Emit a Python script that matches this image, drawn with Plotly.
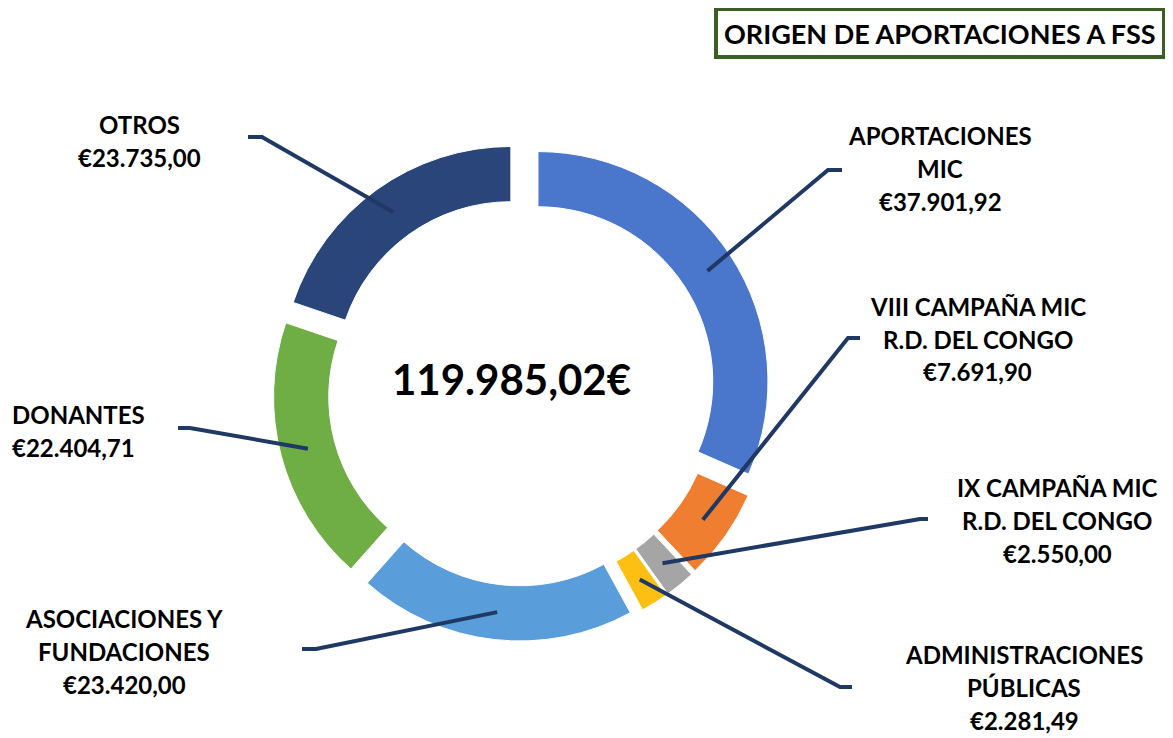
import math
import plotly.graph_objects as go

# ---------------- data ----------------
categories = ["APORTACIONES MIC", "VIII CAMPAÑA MIC R.D. DEL CONGO",
              "IX CAMPAÑA MIC R.D. DEL CONGO", "ADMINISTRACIONES PÚBLICAS",
              "ASOCIACIONES Y FUNDACIONES", "DONANTES", "OTROS"]
label_lines = [["APORTACIONES", "MIC"],
               ["VIII CAMPAÑA MIC", "R.D. DEL CONGO"],
               ["IX CAMPAÑA MIC", "R.D. DEL CONGO"],
               ["ADMINISTRACIONES", "PÚBLICAS"],
               ["ASOCIACIONES Y", "FUNDACIONES"],
               ["DONANTES"],
               ["OTROS"]]
values = [37901.92, 7691.90, 2550.00, 2281.49, 23420.00, 22404.71, 23735.00]
total_label = "119.985,02€"
title_text = "ORIGEN DE APORTACIONES A FSS"

# ---------------- style / layout ----------------
colors = ["#4A76CC", "#F07E30", "#A5A5A5", "#FDC012", "#5A9DDB", "#6EAE45", "#294579"]
OFF = 8                    # browser body margin
W, H = 1173 - OFF, 738 - OFF
CX, CY = 522, 392          # pie centre (page pixels)
R = 230                    # outer radius (pixels)
HOLE = 0.76
PULL = 0.083
FONT = "Lato"
FS = 24
LINE_GAP = 33
LINE_COLOR = "#1F3864"

# label placement (page pixels): text x, first line y, elbow x, elbow y, tick end x, align
label_pos = [
    (940, 135, 828, 170, 842, "center"),
    (978, 306, 848, 338, 860, "center"),
    (1057, 487, 920, 519, 928, "center"),
    (1024, 654, 840, 687, 852, "center"),
    (124, 618, 316, 649, 302, "center"),
    (10, 414, 190, 428, 178, "left"),
    (139, 124, 262, 137, 248, "center"),
]

def px(x):
    return (x - OFF) / W

def py(y):
    return 1 - (y - OFF) / H

def euro(v):
    s = f"{v:,.2f}".replace(",", "X").replace(".", ",").replace("X", ".")
    return "€" + s

box = R * (1 + PULL)
domain_x = [px(CX - box), px(CX + box)]
domain_y = [py(CY + box), py(CY - box)]

fig = go.Figure(go.Pie(
    labels=categories,
    values=values,
    hole=HOLE,
    sort=False,
    direction="clockwise",
    rotation=0,
    pull=[PULL] * len(values),
    marker=dict(colors=colors, line=dict(color="white", width=1)),
    textinfo="none",
    hoverinfo="label+value",
    domain=dict(x=domain_x, y=domain_y),
    showlegend=False,
))

shapes = []
annotations = []
total = sum(values)
cum = 0.0
d = PULL * R
r_mid = R * (1 + HOLE) / 2
for i, v in enumerate(values):
    theta = 2 * math.pi * (cum + v / 2) / total
    cum += v
    pcx = CX + d * math.sin(theta)
    pcy = CY - d * math.cos(theta)
    x0 = pcx + r_mid * math.sin(theta)
    y0 = pcy - r_mid * math.cos(theta)
    tx, ty, ex, ey, hx, anchor = label_pos[i]
    path = f"M {px(x0)} {py(y0)} L {px(ex)} {py(ey)} L {px(hx)} {py(ey)}"
    shapes.append(dict(type="path", path=path, xref="paper", yref="paper",
                       line=dict(color=LINE_COLOR, width=4)))
    lines = label_lines[i] + [euro(v)]
    for k, line in enumerate(lines):
        annotations.append(dict(
            x=px(tx), y=py(ty + k * LINE_GAP), xref="paper", yref="paper",
            xanchor="left" if anchor == "left" else "center", yanchor="middle",
            align=anchor, showarrow=False,
            text=f"<b>{line}</b>",
            font=dict(family=FONT, size=FS, color="black"),
        ))

# centre total
annotations.append(dict(x=px(511), y=py(379), xref="paper", yref="paper",
                        xanchor="center", yanchor="middle",
                        showarrow=False, text=f"<b>{total_label}</b>",
                        font=dict(family=FONT, size=42, color="black")))

# title box
shapes.append(dict(type="rect", xref="paper", yref="paper",
                   x0=px(716), x1=px(1164), y0=py(57), y1=py(9),
                   line=dict(color="#3B5E25", width=4), fillcolor="white",
                   layer="below"))
annotations.append(dict(x=px(940), y=py(33), xref="paper", yref="paper",
                        xanchor="center", yanchor="middle",
                        showarrow=False, text=f"<b>{title_text}</b>",
                        font=dict(family=FONT, size=27, color="black")))

fig.update_layout(
    width=W, height=H,
    margin=dict(l=0, r=0, t=0, b=0),
    paper_bgcolor="white", plot_bgcolor="white",
    shapes=shapes, annotations=annotations,
)

fig.write_html("out.html")
